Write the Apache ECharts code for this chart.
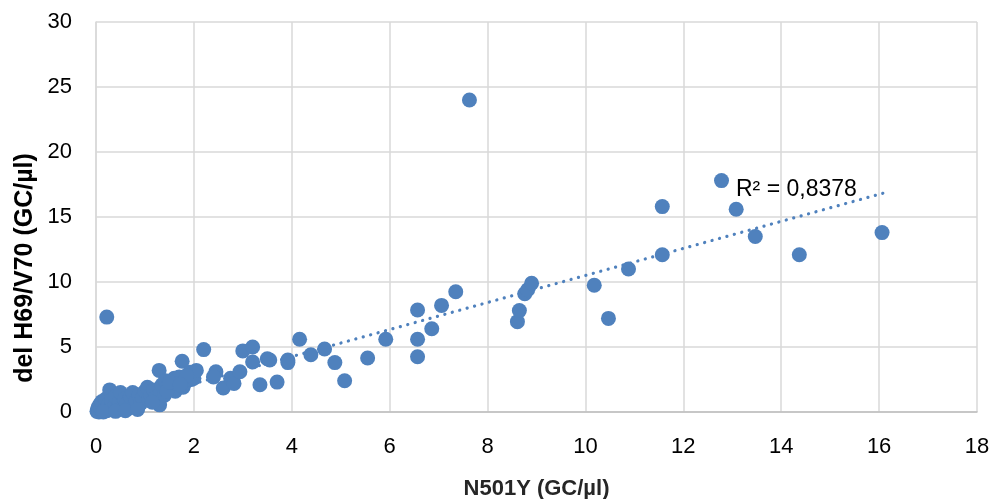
<!DOCTYPE html>
<html>
<head>
<meta charset="utf-8">
<script src="https://cdn.jsdelivr.net/npm/echarts@6/dist/echarts.min.js"></script>
<style>
html,body{margin:0;padding:0;background:#fff;}
#chart{width:992px;height:499px;}
</style>
</head>
<body>
<div id="chart"></div>
<script>
// N501Y (x) values
const xValues = [
  0.02,0.03,0.05,0.05,0.06,0.08,0.10,0.10,0.12,0.13,0.15,0.18,0.20,0.22,0.25,0.28,0.30,0.32,0.35,0.38,
  0.40,0.45,0.48,0.50,0.55,0.58,0.62,0.65,0.70,0.75,0.78,0.82,0.88,0.92,0.95,1.00,1.05,1.08,1.12,1.18,
  1.22,1.29,1.30,1.32,1.35,1.40,1.42,1.48,1.55,1.60,1.62,1.70,1.76,1.78,1.82,1.92,1.95,2.00,2.05,0.22,
  2.20,2.45,2.40,2.60,2.75,2.82,2.94,3.00,3.20,3.20,3.35,3.50,3.55,3.70,3.92,3.92,4.16,4.39,4.67,4.88,
  5.08,5.55,5.92,6.57,6.57,6.57,6.86,7.06,7.35,7.63,8.61,8.65,8.76,8.82,8.90,10.18,10.47,10.88,11.57,11.57,
  12.78,13.08,13.47,14.37,16.06,0.15,0.40,0.60,0.85,1.15,1.45,1.65,1.85,1.50,1.72
];
// del H69/V70 (y) values
const yValues = [
  0.05,0.20,0.10,0.40,0.00,0.60,0.15,0.30,0.80,0.05,0.50,0.25,1.00,0.10,0.60,1.70,0.30,0.90,0.15,0.50,
  1.20,0.30,0.80,1.50,0.40,1.00,0.60,0.25,1.20,1.50,0.50,0.90,1.30,0.70,1.10,1.60,1.90,1.00,1.30,1.70,
  1.10,3.20,0.55,1.50,2.10,1.30,2.40,1.80,2.00,2.60,1.60,2.70,3.90,1.90,2.30,3.05,2.50,2.60,3.20,7.30,
  4.80,3.10,2.70,1.85,2.60,2.20,3.10,4.70,5.00,3.85,2.10,4.10,4.00,2.30,3.80,4.00,5.60,4.40,4.85,3.80,
  2.40,4.15,5.60,7.85,5.60,4.25,6.40,8.20,9.25,24.00,6.95,7.80,9.10,9.40,9.90,9.75,7.20,11.00,15.80,12.10,
  17.80,15.60,13.50,12.10,13.80,0.00,0.05,0.10,0.20,0.75,1.60,2.20,2.80,2.30,2.10
];
// linear trendline end points
const trendX = [0, 16.1];
const trendY = [0.1, 16.85];
const xTicks = [0,2,4,6,8,10,12,14,16,18];
const yTicks = [0,5,10,15,20,25,30];
const r2Label = 'R² = 0,8378';
const xTitle = 'N501Y (GC/µl)';
const yTitle = 'del H69/V70 (GC/µl)';

const points = xValues.map((x, i) => [x, yValues[i]]);
const trend = trendX.map((x, i) => [x, trendY[i]]);

const chart = echarts.init(document.getElementById('chart'), null, {renderer: 'canvas'});
const font = '"Liberation Sans", Arial, sans-serif';
chart.setOption({
  animation: false,
  backgroundColor: '#fff',
  grid: {left: 96, right: 15, top: 22, bottom: 87, containLabel: false, outerBoundsMode: 'none'},
  xAxis: {
    type: 'value', min: xTicks[0], max: xTicks[xTicks.length-1], interval: 2,
    name: xTitle, nameLocation: 'middle', nameGap: 66,
    nameTextStyle: {fontFamily: font, fontSize: 22, fontWeight: 'bold', color: '#262626'},
    axisLine: {show: true, lineStyle: {color: '#bfbfbf', width: 1.5}},
    axisTick: {show: false},
    axisLabel: {fontFamily: font, fontSize: 22, color: '#000', margin: 24},
    splitLine: {show: true, lineStyle: {color: '#d9d9d9', width: 1.5}}
  },
  yAxis: {
    type: 'value', min: yTicks[0], max: yTicks[yTicks.length-1], interval: 5,
    axisLine: {show: true, lineStyle: {color: '#d9d9d9', width: 1.5}},
    axisTick: {show: false},
    axisLabel: {fontFamily: font, fontSize: 22, color: '#000', margin: 24},
    splitLine: {show: true, lineStyle: {color: '#d9d9d9', width: 1.5}}
  },
  graphic: [{
    type: 'text', left: 736, top: 178, z: 100,
    style: {text: r2Label, fontFamily: font, fontSize: 23, fill: '#000'}
  }, {
    type: 'text', x: 25, y: 268, rotation: Math.PI / 2, z: 100,
    style: {text: yTitle, fontFamily: font, fontSize: 25, fontWeight: 'bold', fill: '#000',
            align: 'center', verticalAlign: 'middle'}
  }],
  series: [
    {
      type: 'line', data: trend, symbol: 'none', z: 1,
      lineStyle: {color: '#4f81bd', width: 3.2, type: [0.1, 7.6], cap: 'round'}
    },
    {
      type: 'scatter', data: points, symbol: 'circle', symbolSize: 15, z: 2,
      itemStyle: {color: '#4f81bd', opacity: 1}
    }
  ]
});
</script>
</body>
</html>
